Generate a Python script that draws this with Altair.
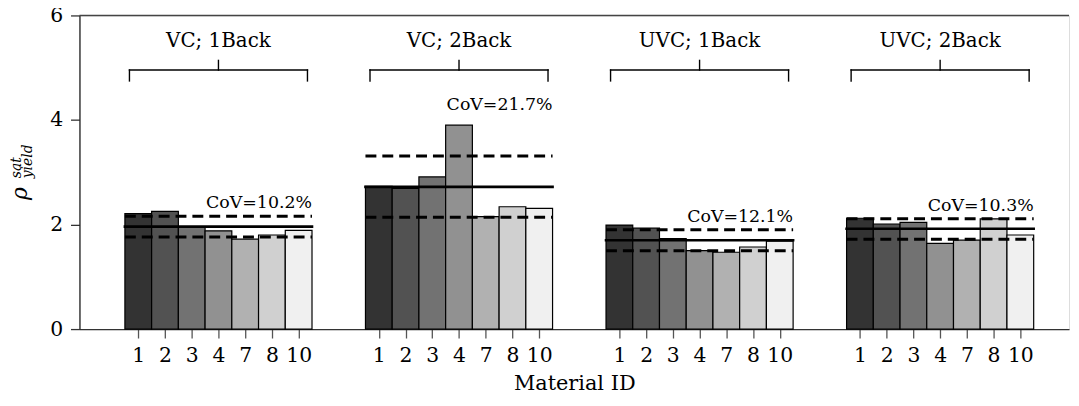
import altair as alt
import pandas as pd

# ---- data ----
groups = ["VC; 1Back", "VC; 2Back", "UVC; 1Back", "UVC; 2Back"]
materials = ["1", "2", "3", "4", "7", "8", "10"]
values = [
    [2.21, 2.25, 1.96, 1.88, 1.72, 1.80, 1.89],
    [2.73, 2.69, 2.91, 3.90, 2.15, 2.34, 2.31],
    [1.99, 1.93, 1.73, 1.50, 1.47, 1.57, 1.68],
    [2.12, 2.01, 2.04, 1.64, 1.70, 2.11, 1.80],
]
means = [1.96, 2.72, 1.70, 1.92]
upper = [2.16, 3.31, 1.90, 2.11]
lower = [1.76, 2.14, 1.50, 1.72]
cov_text = ["CoV=10.2%", "CoV=21.7%", "CoV=12.1%", "CoV=10.3%"]
cov_y = [2.31, 4.19, 2.04, 2.26]
grays = ["#333333", "#525252", "#727272", "#919191", "#b1b1b1", "#d0d0d0", "#f0f0f0"]

FONT = "DejaVu Serif"
GAP = 9  # slots per group (7 bars + 2 empty)
W, H = 997, 316

bars = []
for g, grp in enumerate(groups):
    for i, m in enumerate(materials):
        k = g * GAP + i
        bars.append({"group": grp, "material": m, "x0": k - 0.5, "x1": k + 0.5, "v": values[g][i]})
bars_df = pd.DataFrame(bars)

stats_df = pd.DataFrame({
    "group": groups,
    "xs": [g * GAP - 0.5 for g in range(4)],
    "xe": [g * GAP + 6.5 for g in range(4)],
    "xc": [g * GAP + 3 for g in range(4)],
    "mean": means, "hi": upper, "lo": lower,
    "cov": cov_text, "cov_y": cov_y,
})

# bracket segments
BY, BY_END, BY_TOP, LABEL_Y = 4.955, 4.747, 5.14, 5.40
seg = []
for g in range(4):
    a, b, c = g * GAP - 0.33, g * GAP + 6.33, g * GAP + 3
    seg += [
        {"x": a, "x2": b, "y": BY, "y2": BY},
        {"x": a, "x2": a, "y": BY_END, "y2": BY},
        {"x": b, "x2": b, "y": BY_END, "y2": BY},
        {"x": c, "x2": c, "y": BY, "y2": BY_TOP},
    ]
seg_df = pd.DataFrame(seg)

xdom = [-2.2, -2.2 + W / 26.93]
xscale = alt.Scale(domain=xdom, nice=False, zero=False)
yscale = alt.Scale(domain=[0, 6], nice=False)

tick_vals = [g * GAP + i for g in range(4) for i in range(7)]
label_expr = "['" + "','".join(materials) + "'][datum.value % 9]"

xaxis = alt.Axis(values=tick_vals, labelExpr=label_expr, title="Material ID",
                 tickSize=9, tickColor="#555555", tickWidth=1.3,
                 domainColor="#333333", domainWidth=1.3, grid=False,
                 labelFont=FONT, labelFontSize=20.5, labelColor="black",
                 labelPadding=8, labelOverlap=False, labelFlush=False,
                 titleFont=FONT, titleFontSize=21, titleFontWeight="normal",
                 titleColor="black", titlePadding=6)
yaxis = alt.Axis(values=[0, 2, 4, 6], title=None, tickSize=9, tickColor="#333333",
                 tickWidth=1.3, domainColor="#222222", domainWidth=1.3, grid=False,
                 labelFont=FONT, labelFontSize=20.5, labelColor="black", labelPadding=8)


def X(field):
    return alt.X(field, type="quantitative", scale=xscale, axis=xaxis)


def Y(field):
    return alt.Y(field, type="quantitative", scale=yscale, axis=yaxis)


bar_layer = alt.Chart(bars_df).mark_rect(stroke="black", strokeWidth=1.2).encode(
    x=X("x0"),
    x2="x1:Q",
    y=Y("v"),
    y2=alt.datum(0),
    color=alt.Color("material:N", scale=alt.Scale(domain=materials, range=grays), legend=None),
)

base = alt.Chart(stats_df)
mean_layer = base.mark_rule(color="black", strokeWidth=2.6, strokeCap="square").encode(
    x=X("xs"), x2="xe:Q", y=Y("mean"))
hi_layer = base.mark_rule(color="black", strokeWidth=3, strokeDash=[11, 6]).encode(
    x=X("xs"), x2="xe:Q", y=Y("hi"))
lo_layer = base.mark_rule(color="black", strokeWidth=3, strokeDash=[11, 6]).encode(
    x=X("xs"), x2="xe:Q", y=Y("lo"))
cov_layer = base.mark_text(font=FONT, fontSize=17.5, align="right", baseline="alphabetic",
                           color="black").encode(x=X("xe"), y=Y("cov_y"), text="cov:N")
group_label = base.mark_text(font=FONT, fontSize=20, align="center", baseline="alphabetic",
                             color="black").encode(x=X("xc"), y=alt.datum(LABEL_Y), text="group:N")

bracket = alt.Chart(seg_df).mark_rule(color="black", strokeWidth=1.4, strokeCap="square").encode(
    x=X("x"), x2="x2:Q", y=Y("y"), y2="y2:Q")

one = pd.DataFrame({"a": [0]})
top_spine = alt.Chart(one).mark_rule(color="#444444", strokeWidth=1.5).encode(
    x=alt.value(0), x2=alt.value(W), y=alt.value(0))

rho = alt.Chart(one).mark_text(text="ρ", font=FONT, fontStyle="italic", fontSize=22, angle=270,
                               align="left", baseline="alphabetic", color="black").encode(
    x=alt.value(-53), y=alt.value(186))
sup = alt.Chart(one).mark_text(text="sat", font=FONT, fontStyle="italic", fontSize=14, angle=270,
                               align="left", baseline="alphabetic", color="black").encode(
    x=alt.value(-59), y=alt.value(164))
sub = alt.Chart(one).mark_text(text="yield", font=FONT, fontStyle="italic", fontSize=14, angle=270,
                               align="left", baseline="alphabetic", color="black").encode(
    x=alt.value(-48), y=alt.value(164))

chart = alt.layer(bar_layer, mean_layer, hi_layer, lo_layer, cov_layer, group_label,
                  bracket, top_spine, rho, sup, sub).properties(
    width=W, height=H,
    autosize=alt.AutoSizeParams(type="none"),
    padding={"left": 72, "top": 6, "right": 2, "bottom": 76},
).configure_view(stroke=None).configure_axisX(labelOverlap=False).configure(background="white")

chart.save("out.html", embed_options={"renderer": "svg", "actions": False})
